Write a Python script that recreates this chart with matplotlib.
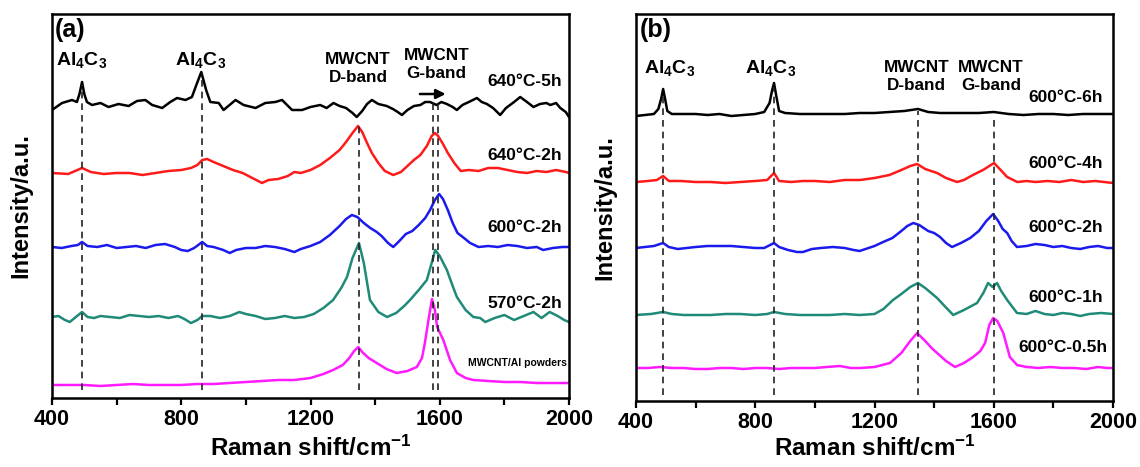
import matplotlib
matplotlib.use("Agg")
import matplotlib.pyplot as plt
from matplotlib.ticker import MultipleLocator

plt.rcParams["font.family"] = ["Liberation Sans", "DejaVu Sans"]
plt.rcParams["font.weight"] = "bold"
plt.rcParams["mathtext.fontset"] = "custom"
plt.rcParams["mathtext.bf"] = "Liberation Sans:bold"
plt.rcParams["mathtext.rm"] = "Liberation Sans:bold"
plt.rcParams["mathtext.default"] = "bf"

# ---- panel (a) spectra (Raman shift in cm-1, intensity in a.u. with offsets) ----
a_black_x = [400, 431, 462, 477, 485, 493, 500, 508, 524, 550, 575, 606, 637, 663, 689, 710, 741,
             766, 787, 813, 833, 849, 862, 877, 890, 916, 931, 968, 993, 1030, 1060, 1091, 1112,
             1143, 1174, 1200, 1230, 1250, 1271, 1290, 1310, 1330, 1343, 1360, 1375, 1390, 1410,
             1436, 1455, 1470, 1483, 1500, 1520, 1540, 1555, 1570, 1590, 1605, 1622, 1640, 1653,
             1670, 1690, 1715, 1730, 1746, 1765, 1787, 1805, 1830, 1849, 1870, 1890, 1910, 1930,
             1942, 1960, 1973, 1990, 2000]
a_black_y = [288, 295, 298, 296, 304, 316, 304, 296, 293, 295, 291, 294, 292, 297, 298, 293, 290,
             296, 300, 298, 301, 315, 326, 308, 296, 295, 288, 298, 293, 290, 295, 296, 298,
             288, 288, 291, 293, 290, 295, 292, 290, 285, 281, 287, 294, 298, 294,
             292, 289, 286, 283, 288, 292, 293, 296, 296, 293, 296, 294, 291, 288,
             293, 296, 300, 296, 294, 290, 283, 290, 296, 301, 296, 291, 294, 295,
             293, 295, 290, 286, 281]

a_red_x = [400, 450, 493, 520, 560, 600, 640, 680, 720, 760, 800, 830, 850, 865, 880, 900, 930,
           960, 990, 1020, 1050, 1070, 1100, 1130, 1150, 1170, 1200, 1230, 1260, 1290, 1310, 1330,
           1347, 1360, 1375, 1390, 1410, 1430, 1456, 1480, 1500, 1520, 1540, 1560, 1575, 1585,
           1595, 1610, 1625, 1645, 1665, 1690, 1720, 1750, 1780, 1810, 1840, 1870, 1900, 1930,
           1960, 1990, 2000]
a_red_y = [225, 224, 230, 226, 224, 225, 225, 223, 225, 227, 228, 230, 233, 238, 239, 236, 232,
           228, 225, 220, 215, 218, 219, 222, 226, 225, 228, 233, 240, 248, 256, 265,
           272, 266, 255, 245, 235, 227, 223, 226, 232, 238, 243, 252, 262, 265,
           262, 254, 245, 235, 227, 228, 227, 230, 230, 228, 226, 225, 227, 226,
           228, 226, 225]

a_blue_x = [400, 430, 460, 480, 493, 510, 540, 570, 600, 630, 660, 690, 720, 750, 780, 800, 820,
            840, 865, 880, 900, 930, 950, 970, 1000, 1030, 1060, 1090, 1120, 1150, 1170, 1200,
            1230, 1260, 1290, 1310, 1328, 1345, 1365, 1385, 1405, 1420, 1440, 1456, 1475, 1495,
            1515, 1535, 1555, 1570, 1585, 1598, 1610, 1625, 1640, 1655, 1675, 1694, 1720, 1750,
            1780, 1810, 1840, 1870, 1900, 1920, 1950, 1980, 2000]
a_blue_y = [151, 150, 152, 153, 156, 152, 151, 153, 150, 151, 152, 150, 153, 154, 151, 148, 147,
            150, 156, 152, 151, 148, 145, 148, 150, 150, 152, 151, 149, 146, 149, 152,
            156, 163, 172, 179, 183, 181, 175, 170, 166, 162, 155, 151, 157, 164,
            167, 173, 180, 188, 198, 204, 199, 188, 175, 165, 160, 155, 151, 152,
            151, 153, 152, 150, 151, 148, 150, 151, 151]

a_teal_x = [400, 420, 440, 455, 470, 493, 510, 530, 550, 580, 610, 640, 670, 700, 730, 760, 790,
            810, 830, 850, 865, 890, 920, 950, 980, 1000, 1030, 1060, 1090, 1120, 1150, 1180,
            1210, 1240, 1270, 1295, 1313, 1330, 1350, 1365, 1384, 1410, 1437, 1465, 1490, 1508,
            1535, 1560, 1575, 1586, 1600, 1622, 1640, 1653, 1680, 1704, 1725, 1741, 1770, 1800,
            1830, 1860, 1890, 1915, 1940, 1965, 1985, 2000]
a_teal_y = [81, 82, 78, 76, 80, 86, 81, 80, 82, 81, 80, 83, 82, 81, 82, 80, 82,
            79, 75, 78, 82, 82, 80, 82, 86, 84, 82, 79, 80, 82, 80, 81,
            84, 90, 98, 110, 121, 140, 155, 135, 98, 86, 81, 85, 92, 98,
            108, 118, 135, 148, 142, 128, 112, 101, 88, 81, 80, 76, 80, 83,
            78, 82, 86, 80, 86, 82, 78, 76]

a_mag_x = [400, 450, 500, 550, 600, 650, 700, 750, 800, 850, 900, 950, 1000, 1050, 1100, 1150,
           1200, 1240, 1270, 1300, 1320, 1335, 1348, 1360, 1380, 1405, 1435, 1467, 1500, 1529,
           1545, 1554, 1565, 1576, 1585, 1592, 1611, 1632, 1653, 1680, 1704, 1750, 1800, 1850,
           1900, 1950, 2000]
a_mag_y = [13, 13, 13, 12, 13, 14, 13, 13, 13, 14, 14, 15, 16, 17, 18, 18,
           20, 24, 28, 33, 40, 47, 51, 46, 40, 35, 29, 25, 27, 31,
           40, 55, 78, 99, 88, 71, 58, 38, 25, 20, 18, 17, 16, 16,
           15, 15, 15]

# ---- panel (b) spectra ----
b_black_x = [400, 430, 460, 475, 485, 491, 497, 505, 520, 560, 600, 640, 680, 720, 760, 800, 830,
             848, 856, 863, 870, 880, 900, 950, 1000, 1050, 1100, 1150, 1200, 1250, 1300, 1346,
             1380, 1420, 1460, 1500, 1550, 1600, 1650, 1700, 1750, 1800, 1850, 1900, 1950, 2000]
b_black_y = [285, 286, 287, 292, 303, 312, 303, 290, 287, 287, 287, 286, 287, 285, 286, 287, 289,
             298, 310, 318, 306, 290, 288, 287, 287, 287, 287, 288, 288, 289, 290, 292,
             289, 288, 288, 288, 288, 289, 287, 286, 287, 287, 286, 287, 287, 287]

b_red_x = [400, 440, 470, 491, 510, 550, 600, 650, 700, 750, 800, 840, 863, 880, 920, 960, 1000,
           1050, 1100, 1152, 1200, 1250, 1290, 1320, 1343, 1370, 1390, 1410, 1440, 1477, 1500,
           1530, 1564, 1585, 1601, 1620, 1645, 1679, 1710, 1740, 1780, 1820, 1860, 1900, 1940,
           1970, 2000]
b_red_y = [219, 220, 221, 225, 220, 220, 219, 219, 218, 219, 220, 221, 228, 220, 219, 220, 220,
           219, 221, 221, 223, 226, 231, 235, 237, 232, 230, 228, 223, 219, 221,
           226, 231, 235, 238, 232, 224, 219, 220, 219, 220, 219, 221, 219, 220,
           219, 218]

b_blue_x = [400, 430, 460, 491, 510, 540, 570, 600, 640, 680, 720, 760, 800, 830, 863, 880, 910,
            940, 960, 990, 1020, 1060, 1100, 1130, 1150, 1170, 1200, 1229, 1260, 1290, 1310, 1330,
            1350, 1380, 1400, 1420, 1440, 1460, 1490, 1521, 1550, 1575, 1598, 1615, 1630, 1645,
            1660, 1678, 1710, 1740, 1770, 1800, 1830, 1860, 1890, 1920, 1950, 1980, 2000]
b_blue_y = [153, 154, 155, 158, 154, 152, 153, 154, 155, 155, 155, 154, 153, 153, 158, 154, 151,
            149, 149, 152, 153, 154, 153, 151, 150, 152, 155, 159, 163, 170, 175, 178,
            176, 170, 168, 164, 158, 154, 158, 163, 170, 180, 187, 180, 172, 168,
            160, 154, 155, 157, 156, 154, 155, 153, 152, 154, 155, 153, 153]

b_teal_x = [400, 450, 491, 520, 560, 600, 650, 700, 750, 800, 840, 863, 900, 950, 1000, 1050,
            1100, 1150, 1200, 1230, 1262, 1290, 1320, 1346, 1370, 1390, 1410, 1435, 1464, 1500,
            1544, 1565, 1581, 1596, 1611, 1625, 1645, 1678, 1710, 1740, 1770, 1800, 1830, 1860,
            1890, 1920, 1960, 2000]
b_teal_y = [86, 87, 89, 87, 86, 86, 86, 87, 87, 86, 87, 89, 87, 86, 86, 86,
            87, 86, 87, 92, 101, 107, 114, 118, 113, 108, 103, 95, 86, 91,
            98, 108, 118, 114, 118, 110, 101, 88, 87, 90, 87, 86, 88, 87,
            85, 87, 88, 87]

b_mag_x = [400, 440, 480, 520, 560, 600, 640, 680, 720, 760, 800, 840, 880, 920, 960, 1000, 1040,
           1084, 1120, 1152, 1200, 1252, 1290, 1320, 1343, 1370, 1395, 1410, 1440, 1470, 1500,
           1531, 1555, 1571, 1585, 1598, 1612, 1632, 1654, 1678, 1710, 1750, 1790, 1830, 1870,
           1910, 1950, 1980, 2000]
b_mag_y = [33, 33, 34, 33, 33, 32, 32, 33, 33, 32, 33, 33, 32, 33, 33, 33, 34,
           35, 33, 33, 34, 38, 48, 60, 68, 60, 52, 48, 40, 34, 38,
           44, 50, 58, 76, 83, 80, 68, 44, 36, 34, 33, 34, 33, 33,
           32, 34, 33, 33]

BLACK = "#000000"
RED = "#ff1a1a"
BLUE = "#1a1aee"
TEAL = "#1f8a78"
MAG = "#ff1aff"

fig = plt.figure(figsize=(11.4, 4.67), dpi=100)
ax_a = fig.add_axes([52 / 1140, 69 / 467, 517 / 1140, 384 / 467])
ax_b = fig.add_axes([636 / 1140, 66 / 467, 477 / 1140, 387 / 467])

series_a = [(a_black_x, a_black_y, BLACK), (a_red_x, a_red_y, RED), (a_blue_x, a_blue_y, BLUE),
            (a_teal_x, a_teal_y, TEAL), (a_mag_x, a_mag_y, MAG)]
series_b = [(b_black_x, b_black_y, BLACK), (b_red_x, b_red_y, RED), (b_blue_x, b_blue_y, BLUE),
            (b_teal_x, b_teal_y, TEAL), (b_mag_x, b_mag_y, MAG)]

for ax, series, top, lpad in [(ax_a, series_a, 384, 4), (ax_b, series_b, 387, 2)]:
    for xs, ys, c in series:
        ax.plot(xs, ys, color=c, linewidth=1.8)
    ax.set_xlim(400, 2000)
    ax.set_ylim(0, top)
    ax.set_yticks([])
    ax.xaxis.set_major_locator(MultipleLocator(400))
    ax.xaxis.set_minor_locator(MultipleLocator(200))
    ax.tick_params(axis="x", which="both", direction="out", length=5, width=1.6,
                   labelsize=15.5, pad=3)
    for s in ax.spines.values():
        s.set_linewidth(1.8)
    for lab in ax.get_xticklabels():
        lab.set_fontweight("bold")
    ax.set_xlabel(r"Raman shift/cm$^{-1}$", fontsize=17.5, fontweight="bold", labelpad=lpad)
    ax.set_ylabel("Intensity/a.u.", fontsize=17, fontweight="bold", labelpad=14)

dash = (0, (4, 3))
# dashed peak guides, panel (a)
for xv, y0, y1 in [(493, 8, 313), (865, 8, 324), (1350, 8, 272), (1579, 8, 298), (1594, 8, 298)]:
    ax_a.plot([xv, xv], [y0, y1], color="#222222", linewidth=1.2, linestyle=dash)
# dashed peak guides, panel (b)
for xv, y0, y1 in [(491, 6, 308), (863, 6, 314), (1346, 6, 290), (1600, 6, 281)]:
    ax_b.plot([xv, xv], [y0, y1], color="#222222", linewidth=1.2, linestyle=dash)

ax_a.annotate("", xy=(1627, 304), xytext=(1530, 304),
              arrowprops=dict(arrowstyle="-|>", color="black", lw=1.8, mutation_scale=14))

# panel (a) text
ax_a.text(407, 380, "(a)", fontsize=18, fontweight="bold", va="top", ha="left")
ax_a.text(493, 338, r"Al$_4$C$_3$", fontsize=14, ha="center", va="center")
ax_a.text(861, 338, r"Al$_4$C$_3$", fontsize=14, ha="center", va="center")
ax_a.text(1347, 330, "MWCNT\nD-band", fontsize=12.3, ha="center", va="center", linespacing=1.25)
ax_a.text(1589, 334, "MWCNT\nG-band", fontsize=12.3, ha="center", va="center", linespacing=1.25)
for lab, h in [("640°C-5h", 316), ("640°C-2h", 243), ("600°C-2h", 170), ("570°C-2h", 95)]:
    ax_a.text(1979, h, lab, fontsize=12.5, ha="right", va="center")
ax_a.text(1994, 35, "MWCNT/Al powders", fontsize=7.5, ha="right", va="center")

# panel (b) text
ax_b.text(411, 383, "(b)", fontsize=18, fontweight="bold", va="top", ha="left")
ax_b.text(514, 333, r"Al$_4$C$_3$", fontsize=14, ha="center", va="center")
ax_b.text(850, 333, r"Al$_4$C$_3$", fontsize=14, ha="center", va="center")
ax_b.text(1340, 324, "MWCNT\nD-band", fontsize=12.3, ha="center", va="center", linespacing=1.25)
ax_b.text(1591, 324, "MWCNT\nG-band", fontsize=12.3, ha="center", va="center", linespacing=1.25)
for lab, h in [("600°C-6h", 304), ("600°C-4h", 238), ("600°C-2h", 173), ("600°C-1h", 104)]:
    ax_b.text(1967, h, lab, fontsize=12.5, ha="right", va="center")
ax_b.text(1981, 54, "600°C-0.5h", fontsize=12.5, ha="right", va="center")

fig.savefig("out.png", dpi=100)
